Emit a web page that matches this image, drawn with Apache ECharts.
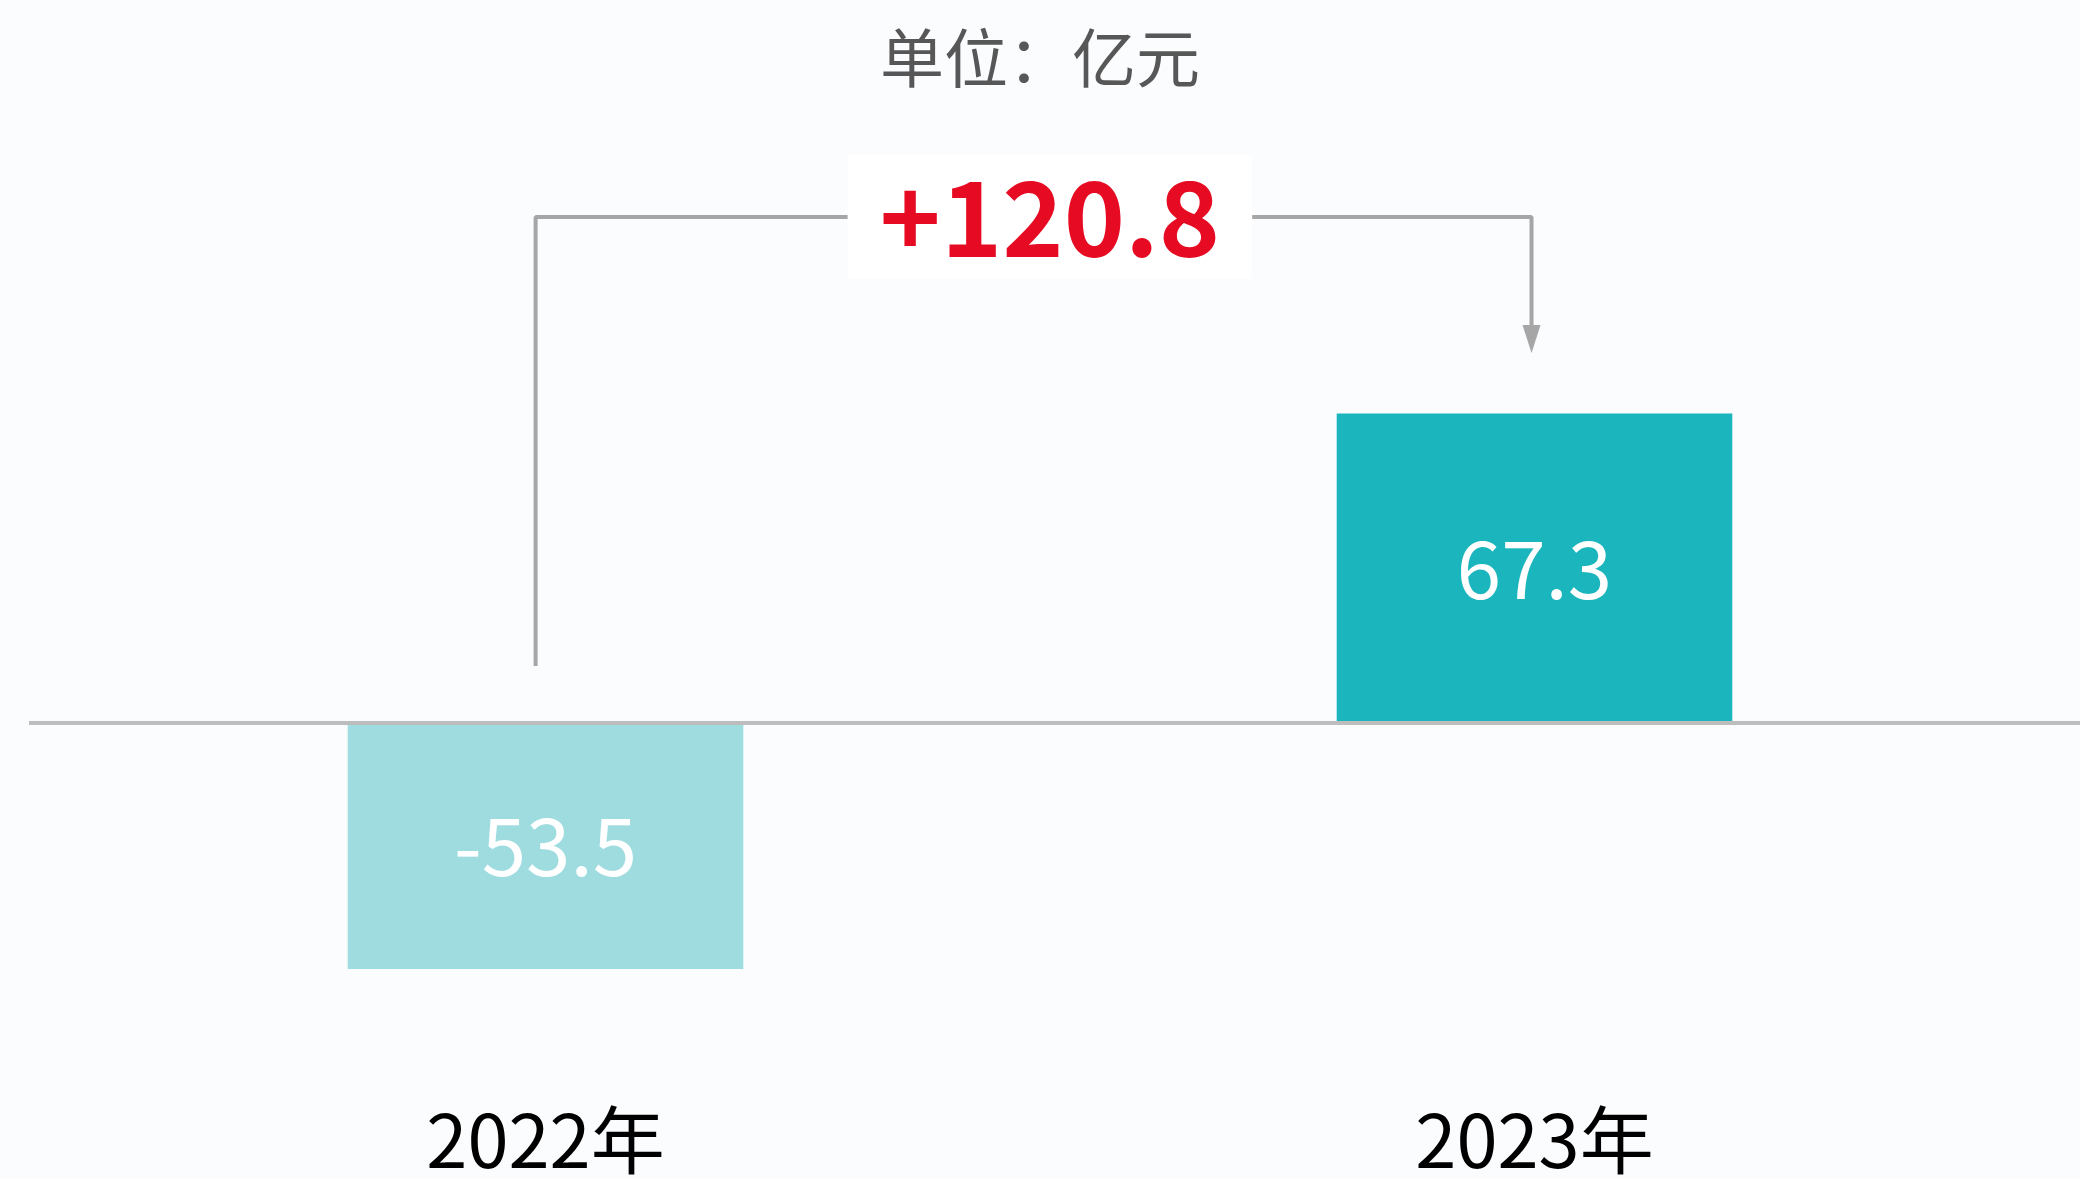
<!DOCTYPE html>
<html>
<head>
<meta charset="utf-8">
<script src="https://cdn.jsdelivr.net/npm/echarts@6/dist/echarts.min.js"></script>
<style>
html,body{margin:0;padding:0;background:#fafcfe;}
#main{width:2080px;height:1179px;}
</style>
</head>
<body>
<div id="main"></div>
<script>
var years = ['2022年', '2023年'];
var profit = [-53.5, 67.3];	//单位：亿元
var barColors = ['#9edcdf', '#1bb6bd'];

// 变化量箭头的高度（按数值轴）
var bracketStart = 12.4;
var bracketTop = 110;
var bracketEnd = 83.5;

var change = profit[1] - profit[0];
var changeText = (change > 0 ? '+' : '') + change.toFixed(1);

var font = '"Noto Sans CJK SC", "Noto Sans", sans-serif';

var barData = [];
for (var i = 0; i < profit.length; i++) {
	barData.push({value: profit[i], itemStyle: {color: barColors[i]}});
}

var myChart = echarts.init(document.getElementById('main'));
var option = {
	backgroundColor: '#fafcfe',
	animation: false,
	title: {
		text: '单位：亿元',
		left: 'center',
		top: 21,
		textStyle: {fontFamily: font, fontSize: 64, fontWeight: 'normal', color: '#575757'}
	},
	grid: {left: 51, right: 51, top: 171, bottom: 88, outerBoundsMode: 'none'},
	xAxis: [{
		type: 'category',
		data: years,
		axisLine: {show: false, onZero: false},
		axisTick: {show: false},
		axisLabel: {margin: 12, fontFamily: font, fontSize: 74, color: '#000000'}
	}, {
		type: 'value',
		min: -0.5,
		max: 1.5,
		show: false
	}],
	yAxis: {
		type: 'value',
		min: -80,
		max: 120,
		show: false,
		splitLine: {show: false}
	},
	series: [{
		type: 'bar',
		data: barData,
		barWidth: '40%',
		label: {
			show: true,
			position: 'inside',
			fontFamily: font,
			fontSize: 80,
			color: '#ffffff'
		},
		z: 2
	}, {
		// 2022 -> 2023 的折线箭头
		type: 'line',
		xAxisIndex: 1,
		data: [
			[-0.01, bracketStart],
			[-0.01, bracketTop],
			[0.997, bracketTop],
			{value: [0.997, bracketEnd], symbol: 'triangle', symbolSize: [18, 28], symbolRotate: 180}
		],
		symbol: 'none',
		showSymbol: true,
		clip: false,
		lineStyle: {color: '#a6a6a6', width: 4},
		itemStyle: {color: '#a6a6a6'},
		z: 4
	}, {
		type: 'scatter',
		xAxisIndex: 1,
		data: [[0.51, bracketTop]],
		symbolSize: 0,
		itemStyle: {opacity: 1},
		label: {
			show: true,
			position: 'inside',
			formatter: changeText,
			fontFamily: font,
			fontSize: 104,
			fontWeight: 'bold',
			color: '#e60b22',
			backgroundColor: '#ffffff',
			padding: [10, 32]
		},
		z: 5
	}]
};
myChart.setOption(option, true);

// 零线，横贯整个画面
var y0 = myChart.convertToPixel({yAxisIndex: 0}, 0);
myChart.setOption({
	graphic: [{
		type: 'line',
		z: 10,
		shape: {x1: 29, y1: y0, x2: myChart.getWidth(), y2: y0},
		style: {stroke: '#bdbdbd', lineWidth: 4}
	}]
});
</script>
</body>
</html>
